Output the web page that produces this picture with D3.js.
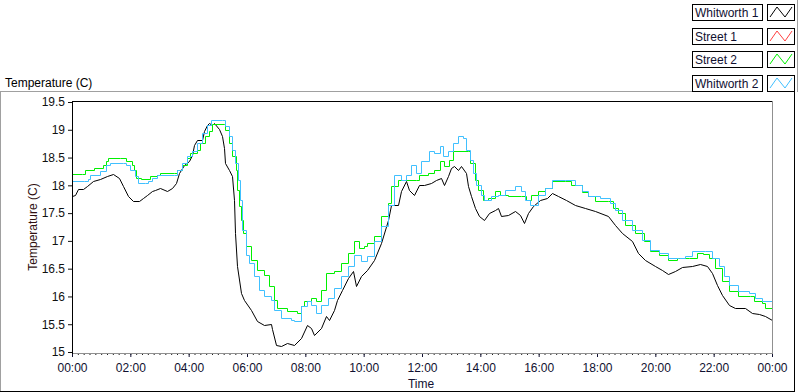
<!DOCTYPE html>
<html>
<head>
<meta charset="utf-8">
<script src="https://cdn.jsdelivr.net/npm/d3@7"></script>
<style>
  body { margin: 0; background: #fff; }
  svg { display: block; }
  text { font-family: "Liberation Sans", Arial, sans-serif; font-size: 12px; }
</style>
</head>
<body>
<svg id="chart" width="800" height="392"></svg>
<script>
// legend order
const seriesNames = ["Whitworth 1", "Street 1", "Street 2", "Whitworth 2"];
const seriesColors = ["#000000", "#ff4040", "#00f000", "#40c0ff"];

// [hour of day, temperature C]
const whitworth1 = [
  [0.00, 17.80], [0.10, 17.83], [0.21, 17.93], [0.38, 17.93], [0.52, 17.98], [0.73, 18.07],
  [0.95, 18.12], [1.19, 18.16], [1.42, 18.20], [1.62, 18.13], [1.76, 17.98], [1.93, 17.80],
  [2.10, 17.71], [2.30, 17.71], [2.42, 17.77], [2.58, 17.83], [2.74, 17.89], [2.86, 17.92],
  [3.03, 17.95], [3.26, 17.89], [3.43, 17.95], [3.55, 18.04], [3.66, 18.22], [3.83, 18.37],
  [4.00, 18.43], [4.12, 18.55], [4.17, 18.73], [4.30, 18.82], [4.47, 18.82], [4.53, 18.97],
  [4.63, 19.09], [4.68, 19.13], [4.80, 19.09], [4.86, 19.12], [5.03, 19.02], [5.15, 18.88],
  [5.20, 18.67], [5.26, 18.40], [5.37, 18.28], [5.49, 18.16], [5.55, 17.74], [5.60, 17.14],
  [5.66, 16.54], [5.78, 16.06], [5.89, 15.94], [6.12, 15.76], [6.35, 15.55], [6.58, 15.49],
  [6.81, 15.50], [6.87, 15.42], [6.98, 15.13], [7.15, 15.10], [7.38, 15.16], [7.61, 15.13],
  [7.84, 15.25], [8.07, 15.49], [8.18, 15.43], [8.30, 15.31], [8.53, 15.43], [8.70, 15.64],
  [8.82, 15.58], [8.99, 15.76], [9.10, 15.94], [9.27, 16.12], [9.45, 16.33], [9.62, 16.45],
  [9.73, 16.18], [9.90, 16.36], [10.13, 16.48], [10.36, 16.66], [10.59, 16.96], [10.82, 17.38],
  [10.94, 17.65], [11.17, 17.65], [11.28, 17.89], [11.45, 18.07], [11.57, 17.92], [11.74, 17.83],
  [11.91, 18.01], [12.08, 18.01], [12.31, 18.04], [12.48, 18.10], [12.65, 18.13], [12.77, 18.01],
  [12.88, 18.16], [13.00, 18.31], [13.11, 18.34], [13.23, 18.28], [13.34, 18.34], [13.51, 18.22],
  [13.59, 17.98], [13.69, 17.80], [13.80, 17.59], [13.97, 17.44], [14.14, 17.38], [14.31, 17.50],
  [14.49, 17.56], [14.60, 17.60], [14.72, 17.44], [14.95, 17.46], [15.18, 17.53], [15.35, 17.46],
  [15.50, 17.32], [15.64, 17.50], [15.81, 17.62], [16.04, 17.74], [16.27, 17.77], [16.44, 17.86],
  [16.67, 17.80], [16.95, 17.74], [17.24, 17.65], [17.59, 17.59], [17.93, 17.53], [18.39, 17.44],
  [18.62, 17.29], [18.84, 17.14], [19.19, 16.99], [19.42, 16.78], [19.65, 16.66], [19.99, 16.54],
  [20.22, 16.48], [20.45, 16.40], [20.68, 16.45], [20.91, 16.53], [21.25, 16.55], [21.54, 16.58],
  [21.77, 16.54], [21.94, 16.42], [22.11, 16.21], [22.28, 16.03], [22.51, 15.85], [22.74, 15.80],
  [23.09, 15.79], [23.31, 15.70], [23.54, 15.68], [23.77, 15.64], [24.00, 15.58]
];

// Street 1 shows in the legend but has no visible trace
const street1 = [];

const street2 = [
  [0.00, 18.20], [0.33, 18.20], [0.45, 18.28], [0.75, 18.32], [1.05, 18.37], [1.15, 18.43],
  [1.25, 18.49], [1.65, 18.49], [1.85, 18.43], [2.05, 18.37], [2.12, 18.28], [2.20, 18.13],
  [2.35, 18.11], [2.68, 18.16], [2.91, 18.19], [3.03, 18.22], [3.49, 18.22], [3.60, 18.28],
  [3.77, 18.37], [3.95, 18.50], [4.06, 18.58], [4.29, 18.64], [4.40, 18.76], [4.57, 18.88],
  [4.68, 18.97], [4.80, 19.10], [5.20, 19.10], [5.26, 18.99], [5.37, 18.76], [5.49, 18.52],
  [5.61, 18.28], [5.67, 17.92], [5.72, 17.62], [5.78, 17.38], [5.85, 17.14], [5.95, 16.90],
  [6.12, 16.66], [6.35, 16.48], [6.58, 16.39], [6.75, 16.18], [6.92, 15.94], [7.04, 15.79],
  [7.38, 15.73], [7.73, 15.70], [7.84, 15.82], [7.95, 15.91], [8.18, 15.97], [8.36, 15.91],
  [8.53, 16.12], [8.70, 16.42], [8.99, 16.45], [9.22, 16.60], [9.45, 16.78], [9.67, 16.99],
  [9.85, 16.87], [10.02, 16.90], [10.13, 16.96], [10.36, 17.08], [10.59, 17.44], [10.82, 17.68],
  [10.94, 17.98], [11.17, 18.10], [11.79, 18.10], [11.91, 18.19], [12.20, 18.22], [12.42, 18.28],
  [12.60, 18.43], [12.77, 18.34], [12.94, 18.46], [13.06, 18.61], [13.57, 18.61], [13.66, 18.40],
  [13.80, 18.10], [13.92, 17.92], [14.09, 17.74], [14.26, 17.77], [14.49, 17.89], [14.66, 17.83],
  [14.95, 17.80], [15.40, 17.80], [15.58, 17.74], [15.75, 17.83], [15.98, 17.89], [16.21, 17.95],
  [16.44, 18.07], [16.90, 18.07], [17.12, 18.01], [17.47, 17.88], [17.70, 17.80], [17.93, 17.71],
  [18.39, 17.71], [18.56, 17.59], [18.73, 17.50], [18.96, 17.29], [19.31, 17.14], [19.60, 16.99],
  [19.83, 16.81], [20.11, 16.75], [20.45, 16.66], [20.74, 16.69], [21.14, 16.70], [21.42, 16.78],
  [21.65, 16.76], [21.83, 16.69], [22.05, 16.51], [22.28, 16.27], [22.51, 16.09], [22.85, 16.01],
  [23.25, 16.00], [23.37, 15.91], [23.66, 15.88], [23.77, 15.80], [24.00, 15.80]
];

const whitworth2 = [
  [0.00, 18.08], [0.40, 18.08], [0.55, 18.11], [0.62, 18.19], [0.95, 18.25], [1.18, 18.37],
  [1.30, 18.41], [1.75, 18.41], [1.85, 18.37], [2.00, 18.28], [2.17, 18.16], [2.27, 18.04],
  [2.50, 18.04], [2.62, 18.07], [2.74, 18.13], [2.91, 18.19], [3.49, 18.19], [3.60, 18.28],
  [3.77, 18.40], [3.94, 18.52], [4.12, 18.61], [4.29, 18.76], [4.46, 18.94], [4.63, 19.09],
  [4.75, 19.18], [5.15, 19.18], [5.26, 19.06], [5.37, 18.88], [5.49, 18.64], [5.60, 18.40],
  [5.70, 18.10], [5.76, 17.74], [5.83, 17.20], [5.95, 16.75], [6.06, 16.60], [6.23, 16.36],
  [6.41, 16.12], [6.58, 16.00], [6.81, 15.94], [6.92, 15.76], [7.15, 15.61], [7.50, 15.58],
  [7.61, 15.55], [7.84, 15.82], [8.07, 15.91], [8.18, 15.85], [8.36, 15.71], [8.53, 15.85],
  [8.76, 15.97], [8.99, 16.15], [9.22, 16.36], [9.45, 16.54], [9.67, 16.75], [9.90, 16.63],
  [10.13, 16.72], [10.36, 16.99], [10.59, 17.26], [10.82, 17.65], [11.05, 18.19], [11.28, 18.10],
  [11.45, 18.19], [11.62, 18.37], [11.79, 18.22], [11.97, 18.43], [12.25, 18.61], [12.42, 18.58],
  [12.60, 18.70], [12.71, 18.52], [12.88, 18.61], [13.06, 18.76], [13.23, 18.88], [13.40, 18.85],
  [13.51, 18.64], [13.63, 18.46], [13.75, 18.22], [13.86, 18.01], [14.03, 17.83], [14.14, 17.74],
  [14.37, 17.80], [14.60, 17.83], [14.83, 17.92], [15.18, 17.98], [15.41, 17.89], [15.52, 17.74],
  [15.69, 17.65], [15.86, 17.65], [15.98, 17.83], [16.21, 17.95], [16.44, 18.10], [16.90, 18.09],
  [17.24, 18.01], [17.47, 17.89], [17.70, 17.81], [18.10, 17.77], [18.44, 17.68], [18.62, 17.56],
  [18.84, 17.38], [19.19, 17.20], [19.54, 17.02], [19.83, 16.84], [20.11, 16.78], [20.45, 16.69],
  [20.80, 16.69], [21.00, 16.73], [21.25, 16.81], [21.71, 16.81], [21.94, 16.69], [22.17, 16.54],
  [22.34, 16.36], [22.51, 16.21], [22.85, 16.10], [23.20, 16.06], [23.43, 15.97], [23.66, 15.91],
  [24.00, 15.90]
];

const seriesData = [whitworth1, street1, street2, whitworth2];
const yTicks = [15, 15.5, 16, 16.5, 17, 17.5, 18, 18.5, 19, 19.5];
const xTickHours = [0, 2, 4, 6, 8, 10, 12, 14, 16, 18, 20, 22, 24];

const svg = d3.select("#chart");

const x = d3.scaleLinear().domain([0, 24]).range([72, 772]);
const y = d3.scaleLinear().domain([15, 19.5]).range([352, 102]);

// outer panel frame
svg.append("line").attr("x1", 0).attr("x2", 692).attr("y1", 91.5).attr("y2", 91.5).attr("stroke", "#a0a0a0");
svg.append("line").attr("x1", 0.5).attr("x2", 0.5).attr("y1", 91).attr("y2", 392).attr("stroke", "#a0a0a0");
svg.append("line").attr("x1", 0).attr("x2", 795).attr("y1", 391.5).attr("y2", 391.5).attr("stroke", "#000");
svg.append("line").attr("x1", 794.5).attr("x2", 794.5).attr("y1", 91).attr("y2", 392).attr("stroke", "#000");
svg.append("line").attr("x1", 797.5).attr("x2", 797.5).attr("y1", 0).attr("y2", 92).attr("stroke", "#a0a0a0");

// chart label top-left
svg.append("text").attr("x", 5).attr("y", 86.5).attr("fill", "#000").text("Temperature (C)");

// x axis: minor ticks every 12 minutes, major every 2 hours
svg.append("g")
  .attr("transform", "translate(0,353)")
  .style("color", "#202020")
  .call(d3.axisBottom(x).tickValues(d3.range(0, 24.01, 0.2)).tickSize(2).tickFormat(""))
  .call(g => g.select(".domain").remove());

svg.append("g")
  .attr("transform", "translate(0,353)")
  .style("color", "#101030")
  .call(d3.axisBottom(x).tickValues(xTickHours).tickSize(4).tickPadding(6)
    .tickFormat(h => String(h % 24).padStart(2, "0") + ":00"))
  .call(g => g.select(".domain").remove());

// y axis
svg.append("g")
  .attr("transform", "translate(72,0)")
  .style("color", "#101010")
  .call(d3.axisLeft(y).tickValues(yTicks).tickSize(4).tickPadding(3).tickFormat(d => String(d)))
  .call(g => g.select(".domain").remove());

// axis titles
svg.append("text")
  .attr("transform", "translate(36.5,227) rotate(-90)")
  .attr("text-anchor", "middle")
  .attr("fill", "#301010")
  .text("Temperature (C)");

svg.append("text")
  .attr("x", 421).attr("y", 388)
  .attr("text-anchor", "middle")
  .attr("fill", "#101030")
  .text("Time");

// plot lines, snapped to pixel centres so 1px traces stay sharp
const px = d => Math.round(x(d[0])) + 0.5;
const py = d => Math.round(y(d[1])) + 0.5;
const stepLine = d3.line().x(px).y(py).curve(d3.curveStepAfter);
const plainLine = d3.line().x(px).y(py);

seriesData.forEach((data, i) => {
  if (!data.length) return;
  svg.append("path")
    .datum(data)
    .attr("fill", "none")
    .attr("stroke", seriesColors[i])
    .attr("stroke-width", 1)
    .attr("d", i === 0 ? plainLine : stepLine);
});

// plot frame: black left/top, gray right/bottom
svg.append("line").attr("x1", 72.5).attr("x2", 72.5).attr("y1", 101).attr("y2", 354).attr("stroke", "#000");
svg.append("line").attr("x1", 72).attr("x2", 773).attr("y1", 101.5).attr("y2", 101.5).attr("stroke", "#000");
svg.append("line").attr("x1", 772.5).attr("x2", 772.5).attr("y1", 101).attr("y2", 354).attr("stroke", "#909090");
svg.append("line").attr("x1", 73).attr("x2", 773).attr("y1", 353.5).attr("y2", 353.5).attr("stroke", "#909090");

// legend
const zig = d3.line();
const legend = svg.append("g");
seriesNames.forEach((name, i) => {
  const top = 4 + Math.round(i * 23.7);
  const row = legend.append("g").attr("transform", `translate(0,${top})`);
  row.append("rect").attr("x", 692.5).attr("y", 0.5).attr("width", 70).attr("height", 16)
    .attr("fill", "#fff").attr("stroke", "#000");
  row.append("text").attr("x", 695).attr("y", 13).attr("fill", "#101030").text(name);
  row.append("rect").attr("x", 767.5).attr("y", 0.5).attr("width", 27).attr("height", 16)
    .attr("fill", "#fff").attr("stroke", "#000");
  row.append("path")
    .attr("d", zig([[770, 13], [777, 3], [785, 13], [792, 3]]))
    .attr("fill", "none")
    .attr("stroke", seriesColors[i]);
});
</script>
</body>
</html>
